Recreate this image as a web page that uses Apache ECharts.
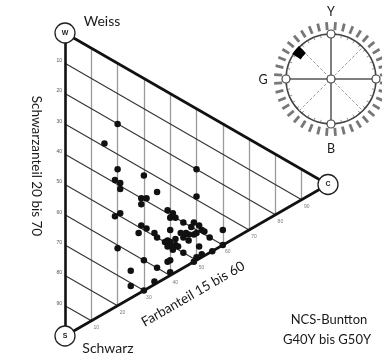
<!DOCTYPE html>
<html>
<head>
<meta charset="utf-8">
<script src="https://cdn.jsdelivr.net/npm/echarts@6/dist/echarts.min.js"></script>
<style>
html, body { margin: 0; padding: 0; background: #fff; }
#chart { width: 382px; height: 358px; }
</style>
</head>
<body>
<div id="chart"></div>
<script>
// NCS Farbanteil (chromaticness) und Schwarzanteil (blackness) der Proben
var farbanteil = [20, 15, 20, 30, 19, 21, 35, 21, 29, 31, 29, 21, 19, 29, 31, 28, 34, 35,
    20, 30, 25, 25, 35, 34, 40, 30, 39, 50, 60, 60, 56, 50,
    39, 41, 40, 42, 45, 49, 51, 48, 52, 50, 53, 49, 40, 44, 46, 47, 45, 47,
    39, 40, 42, 38, 40, 42, 39, 41, 43, 51, 45, 40, 55, 52, 49, 50];
var schwarzanteil = [20, 29, 35, 32, 39, 39, 35, 41, 40, 39, 42, 49, 51, 49, 49, 52, 49, 50,
    61, 60, 66, 71, 60, 65, 59, 70, 56, 29, 35, 40, 44, 20,
    39, 39, 41, 40, 40, 38, 38, 40, 39, 41, 39, 42, 45, 44, 43, 43, 45, 45,
    49, 49, 47, 50, 50, 49, 51, 51, 49, 45, 50, 55, 40, 47, 51, 49];
var rasterWerte = [10, 20, 30, 40, 50, 60, 70, 80, 90];
var ecken = [
    { name: 'W', c: 0, s: 0 },
    { name: 'S', c: 0, s: 100 },
    { name: 'C', c: 100, s: 0 }
];

// Dreieck: x = Farbanteil, y = Schwarzanteil + Farbanteil / 2
function pos(c, s) {
    return [c, s + c / 2];
}

var vertikal = rasterWerte.map(function (c) {
    return { coords: [pos(c, 0), pos(c, 100 - c)] };
});
var diagonal = rasterWerte.map(function (s) {
    return { coords: [pos(0, s), pos(100 - s, s)] };
});
var kanten = [
    { coords: [pos(0, 0), pos(100, 0)] },
    { coords: [pos(0, 100), pos(100, 0)] },
    { coords: [pos(0, 0), pos(0, 100)] }
];
var punkte = farbanteil.map(function (c, i) {
    return pos(c, schwarzanteil[i]);
});
var unterLabels = rasterWerte.map(function (c) {
    return { value: pos(c, 100 - c), label: { formatter: String(c) } };
});

// NCS-Farbkreis rechts oben
var cx = 331, cy = 79, R = 45;
var kreis = [];
for (var k = 0; k < 40; k++) {
    var a = (4.5 + k * 9) * Math.PI / 180;
    var co = Math.cos(a), si = Math.sin(a);
    kreis.push({
        type: 'line',
        shape: { x1: cx + 49 * co, y1: cy - 49 * si, x2: cx + 57 * co, y2: cy - 57 * si },
        style: { stroke: '#777', lineWidth: 2.8 }
    });
    kreis.push({
        type: 'line',
        shape: { x1: cx + 42 * co, y1: cy - 42 * si, x2: cx + 45 * co, y2: cy - 45 * si },
        style: { stroke: '#777', lineWidth: 0.8 }
    });
}
kreis.push({ type: 'circle', shape: { cx: cx, cy: cy, r: R }, style: { fill: 'none', stroke: '#444', lineWidth: 1.5 } });
kreis.push({ type: 'line', shape: { x1: cx - R * 0.707, y1: cy - R * 0.707, x2: cx + R * 0.707, y2: cy + R * 0.707 }, style: { stroke: '#999', lineWidth: 1, lineDash: [3, 2] } });
kreis.push({ type: 'line', shape: { x1: cx - R * 0.707, y1: cy + R * 0.707, x2: cx + R * 0.707, y2: cy - R * 0.707 }, style: { stroke: '#999', lineWidth: 1, lineDash: [3, 2] } });
kreis.push({ type: 'line', shape: { x1: cx - R, y1: cy, x2: cx + R, y2: cy }, style: { stroke: '#555', lineWidth: 1.5 } });
kreis.push({ type: 'line', shape: { x1: cx, y1: cy - R, x2: cx, y2: cy + R }, style: { stroke: '#555', lineWidth: 1.5 } });
// Markierung G40Y bis G50Y
var mk = [];
for (var d = 134; d <= 147; d += 1) mk.push([cx + 46 * Math.cos(d * Math.PI / 180), cy - 46 * Math.sin(d * Math.PI / 180)]);
for (var d2 = 147; d2 >= 134; d2 -= 1) mk.push([cx + 36 * Math.cos(d2 * Math.PI / 180), cy - 36 * Math.sin(d2 * Math.PI / 180)]);
kreis.push({ type: 'polygon', shape: { points: mk, smooth: 0.2 }, style: { fill: '#000' } });
[[cx, cy - R], [cx - R, cy], [cx, cy + R], [cx + R, cy], [cx, cy]].forEach(function (p) {
    kreis.push({ type: 'circle', shape: { cx: p[0], cy: p[1], r: 4 }, style: { fill: '#fff', stroke: '#444', lineWidth: 1.2 } });
});

var schrift = 'Lato, "Open Sans", sans-serif';
function text(t, x, y, size, rot) {
    return {
        type: 'text', x: x, y: y, rotation: rot || 0,
        style: { text: t, fill: '#1a1a1a', font: size + 'px ' + schrift, align: 'center', verticalAlign: 'middle' }
    };
}

var myChart = echarts.init(document.getElementById('chart'));
var option = {
    animation: false,
    grid: { left: 65, top: 33, width: 263, height: 303 },
    xAxis: { type: 'value', min: 0, max: 100, show: false },
    yAxis: {
        type: 'value', min: 0, max: 100, interval: 10, inverse: true,
        axisLine: { show: false }, axisTick: { show: false }, splitLine: { show: false },
        axisLabel: {
            fontSize: 5, color: '#555', margin: 3, verticalAlign: 'bottom',
            formatter: function (v) { return (v > 0 && v < 100) ? String(v) : ''; }
        }
    },
    series: [
        {
            type: 'lines', coordinateSystem: 'cartesian2d', silent: true, z: 1,
            lineStyle: { color: '#9a9a9a', width: 1.3, opacity: 1 },
            data: vertikal
        },
        {
            type: 'lines', coordinateSystem: 'cartesian2d', silent: true, z: 2,
            lineStyle: { color: '#333', width: 1.1, opacity: 1 },
            data: diagonal
        },
        {
            type: 'lines', coordinateSystem: 'cartesian2d', silent: true, z: 3,
            lineStyle: { color: '#111', width: 2.6, opacity: 1 },
            data: kanten
        },
        {
            type: 'scatter', z: 4, symbolSize: 6.5,
            itemStyle: { color: '#111', opacity: 1 },
            data: punkte
        },
        {
            type: 'scatter', z: 5, symbolSize: 0,
            label: { show: true, position: 'inside', offset: [5, 7], fontSize: 5, color: '#555' },
            data: unterLabels
        },
        {
            type: 'scatter', z: 6, symbolSize: 20,
            itemStyle: { color: '#fff', borderColor: '#222', borderWidth: 1.3, opacity: 1 },
            label: { show: true, position: 'inside', fontSize: 7, color: '#222', fontWeight: 'bold', formatter: '{b}' },
            data: ecken.map(function (e) { return { name: e.name, value: pos(e.c, e.s) }; })
        }
    ],
    graphic: kreis.concat([
        text('Weiss', 102, 21, 14),
        text('Schwarz', 108, 348, 14),
        text('Schwarzanteil 20 bis 70', 36, 166, 13.5, -Math.PI / 2),
        text('Farbanteil 15 bis 60', 193, 294, 13.5, Math.PI / 6),
        text('Y', 331, 12, 12.5),
        text('G', 263, 80, 12.5),
        text('B', 331, 149, 12.5),
        text('NCS-Buntton', 329, 320, 13),
        text('G40Y bis G50Y', 327, 340, 13)
    ])
};
myChart.setOption(option);
</script>
</body>
</html>
